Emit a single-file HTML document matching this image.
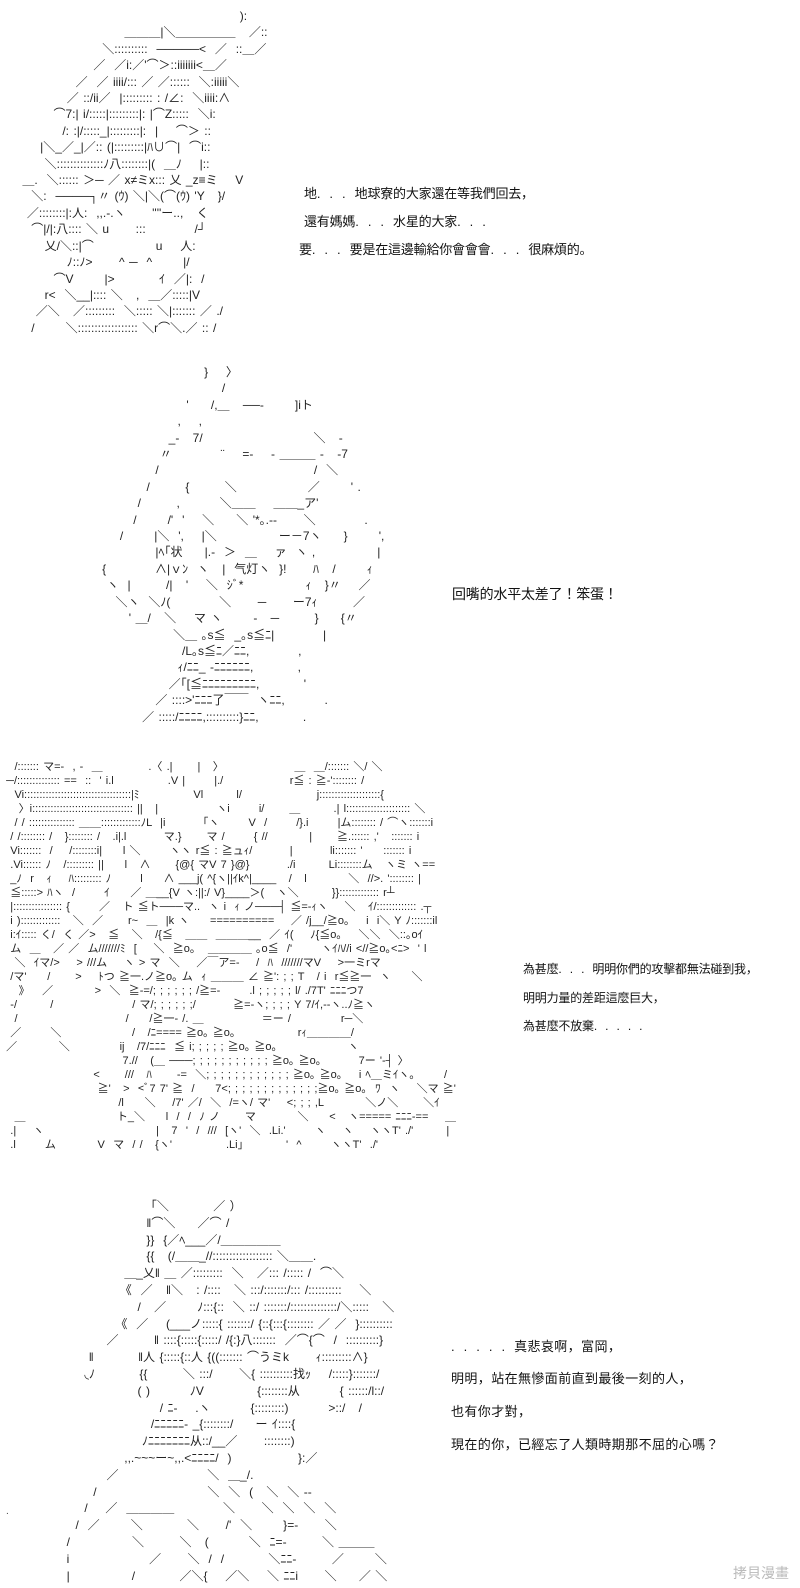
<!DOCTYPE html>
<html><head><meta charset="utf-8">
<style>
html,body{margin:0;padding:0;background:#fff;}
body{width:800px;height:1588px;position:relative;overflow:hidden;}
.aa{position:absolute;margin:0;white-space:pre;font-family:"Liberation Sans","Noto Sans CJK JP",sans-serif;font-size:12px;color:#222;word-spacing:1.1px;}
.t{position:absolute;white-space:nowrap;font-family:"Liberation Sans","Noto Sans CJK JP","Noto Sans CJK TC",sans-serif;color:#111;}
.p1{font-size:13px;letter-spacing:-0.2px;}
.p3{font-size:12px;letter-spacing:-0.2px;}
.p4{font-size:13px;letter-spacing:0.4px;}
.d{letter-spacing:9px;}
.p3 .d{letter-spacing:8px;}
</style></head><body>

<pre class="aa" style="left:18px;top:8px;line-height:16.4px;">                                                  ):
                        ＿＿＿|＼＿＿＿＿＿   ／::
                   ＼::::::::::  ─────&lt;  ／  ::＿／
                 ／  ／i:／'⌒＞::iiiiiii&lt;＿／
             ／  ／ iiii/::: ／ ／::::::  ＼:iiiii＼
           ／ ::/ii／  |::::::::: : /∠:  ＼iiii:∧
        ⌒7:| i/:::::|:::::::::|: |⌒Z:::::  ＼i:
          /: :|/:::::_|:::::::::|:  |    ⌒＞ ::
     |＼_／_|／:: (|:::::::::|ﾊ∪⌒|  ⌒i::
      ＼::::::::::::::ﾉ八::::::::|(  ＿ﾉ    |::
 ＿.  ＼:::::: ＞─ ／ x≠ミx::: 乂 _z≡ミ    V
   ＼:  ────┐〃 (ｳ) ＼|＼(⌒(ｳ) 'Y   }/
  ／::::::::|:人:  ,,.-.ヽ      ''''ー..,   く
   ⌒|/|:八:::: ＼ u      :::           /┘
      乂/＼::|⌒              u    人:
           ﾉ::ﾉ&gt;      ^ ─  ^       |/
        ⌒V       |&gt;          ｲ  ／|:  /
      r&lt;  ＼__|:::: ＼   ,  ＿／:::::|V
    ／＼   ／:::::::::  ＼::::: ＼|::::::: ／ ./
   /       ＼:::::::::::::::::: ＼r⌒＼.／ :: /</pre>

<pre class="aa" style="left:80px;top:364px;line-height:16.4px;">                            }    〉
                                /
                        '     /,＿   ──-       ]iト
                      ,    ,
                    _-   7/                         ＼   -
                  〃           ¨    =-    - ＿＿＿ -   -7
                 /                                   /  ＼
               /        {        ＼                ／       ' .
             /        ,         ＼＿＿    ＿＿_ア'
            /       /'  '    ＼     ＼ '*｡.--      ＼           .
         /       |＼  ',    |＼              ー－7ヽ     }       ',
                 |ﾍ｢状     |.-  ＞  ＿    ァ  ヽ ,              |
     {           ∧|ｖﾝ  ヽ   |  气灯ヽ  }!      ﾊ   /       ｨ
      ヽ  |        /|   '    ＼  ｼﾞ*              ｨ   }〃    ／
        ＼ヽ  ＼ﾉ(           ＼      ─      ー7ｨ        ／
           ' ＿/   ＼    マ ヽ       -   ─        }     {〃
                     ＼＿ ｡s≦  _｡s≦ﾆ|           |
                       /L｡s≦ﾆ／ﾆﾆ,           ,
                      ｨ/ﾆﾆ_ -ﾆﾆﾆﾆﾆﾆ,          ,
                    ／｢[≦ﾆﾆﾆﾆﾆﾆﾆﾆﾆ,          '
                 ／ ::::&gt;'ﾆﾆﾆ了￣￣  ヽﾆﾆ,         .
              ／ :::::/ﾆﾆﾆﾆ,::::::::::}ﾆﾆ,          .</pre>

<pre class="aa" style="left:2px;top:760px;line-height:14px;font-size:11px;">   /::::::: マ=-  , -  ＿           .〈 .|      |   〉                 ＿  ＿/::::::: ＼/ ＼
 ─/:::::::::::::: ==  ::  ' i.l             .V |       |./                r≦ : ≧-':::::::: /
   Vi:::::::::::::::::::::::::::::::::::|ﾐ             Vl        l/                  j::::::::::::::::::::{
    〉i::::::::::::::::::::::::::::::::: ||   |              ヽi       i/      ＿        .| l::::::::::::::::::::: ＼
   / / ::::::::::::::: ＿＿:::::::::::::ﾉL  |i         ｢ヽ       V  /       /}.i       |ム:::::::: / ⌒ヽ:::::::i
  / /:::::::: /   }:::::::: /   .i|.l         マ.}      マ /       { //          |      ≧.:::::: ,'   ::::::: i
  Vi:::::::  /    /::::::::i|     l ＼       ヽヽ r≦ : ≧ュｨ/         |         li::::::: '     ::::::: i
  .Vi:::::: ﾉ   /::::::::: ||     l   ∧      {@{ マV 7 }@}         ./i        Li::::::::ム   ヽミ ヽ==
  _ﾉ  r   ｨ    ﾊ::::::::: ﾉ       l     ∧ ___j( ^{ヽ||ｲk^|____   /   l          ＼  //&gt;. ':::::::: |
  ≦:::::&gt; ﾊヽ  /       ｲ     ／ ＿__{V ヽ:||:/ V}____＞(   ヽ＼        }}::::::::::::: r┴
  |:::::::::::::::: {       ／   ト ≦ト───マ..  ヽ i  ｨ ノ───┤ ≦=-ｨヽ    ＼   ｲ/::::::::::::: .┬
  i ):::::::::::::   ＼  ／      r~  ＿  |k ヽ     ==========    ／ /j__/≧o｡    i  i＼ Y ﾉ:::::::il
  i:ｲ::::: く/  く ／&gt;   ≦   ＼   /{≦   ＿＿  ＿＿＿__  ／ ｲ(    ﾉ{≦o｡    ＼＼  ＼::｡oｲ
  ム  ＿   ／ ／  ム///////ﾐ  [    ＼  ≧o｡   ＿＿＿＿ ｡o≦  /'       ヽｲﾊ//i &lt;//≧o｡&lt;ﾆ&gt;  ' l
   ＼  ｲマ/&gt;    &gt; ///ム    ヽ &gt; マ  ＼    ／￣ア=-    /  ﾊ  ///////マV    &gt;一ミrマ
  /マ'     /      &gt;    ﾄつ ≧一.ノ≧o｡ ム  ｨ ＿＿＿ ∠ ≧': ; ; T   / i  r≦≧一  ヽ     ＼
    》   ／          &gt;  ＼  ≧-=/; ; ; ; ; ; /≧=-       .l ; ; ; ; ; l/ ./7T' ﾆﾆﾆつ7
  -/        /                   / マ/; ; ; ; ; ;/         ≧=-ヽ; ; ; ; Y 7/ｲ,--ヽ..ﾉ≧ヽ
   /                          /     /≧一- /. ＿              ＝ー /            r─＼
  ／       ＼                 /   /ﾆ==== ≧o｡ ≧o｡               rｨ＿＿＿＿/
 ／          ＼            ij   /7/ﾆﾆﾆ  ≦ i; ; ; ; ; ≧o｡ ≧o｡                 ヽ
                             7.//   (＿ ───; ; ; ; ; ; ; ; ; ; ; ≧o｡ ≧o｡         7ー '-┤ 〉
                      &lt;      ///   ﾊ      -=  ＼; ; ; ; ; ; ; ; ; ; ; ; ≧o｡ ≧o｡    i ﾍ＿ミｲヽ｡       /
                       ≧'   &gt;  &lt;ﾞ7 7' ≧  /     7&lt;; ; ; ; ; ; ; ; ; ; ; ; ;≧o｡ ≧o｡  ﾜ  ヽ    ＼マ ≧'
                            /l     ＼    /7' ／/  ＼  /=ヽ/ マ'    &lt;; ; ; ,L          ＼ノ＼      ＼ｲ
   ＿                      ト_＼     l  /  /  ﾉ ノ      マ          ＼     &lt;   ヽ===== ﾆﾆﾆ-==    ＿
  .|    ヽ                           |   7  '  /  ///  [ヽ'  ＼  .Li.'       ヽ    ヽ    ヽヽT' ./'        |
  .l       ム          V  マ  / /   {ヽ'             .Li」         '  ^       ヽヽT'  ./'</pre>

<pre class="aa" style="left:40px;top:1198px;line-height:16.8px;">                         ｢＼          ／ ）
                        ‖⌒＼     ／⌒ /
                        }}  {／ﾍ___／/＿＿＿＿＿
                        {{   (/＿＿_//:::::::::::::::::: ＼＿＿.
                   ＿_乂‖ ＿ ／:::::::::  ＼   ／::: /::::: /  ⌒＼
                  《  ／   ‖＼   : /::::   ＼ :::/:::::::/::: /::::::::::    ＼
                      /   ／       ﾉ:::{::  ＼ ::/ :::::::/::::::::::::::/＼:::::   ＼
                 《  ／    (___ノ:::::{ :::::::/ {::{:::{:::::::: ／ ／  }::::::::::
               ／        ‖ ::::{:::::{:::::/ /{:}八:::::::  ／⌒{⌒  /  ::::::::::}
           ‖          ‖人 {:::::{::人 {((::::::: ⌒うミk      ｨ:::::::::∧}
          ◟ﾉ          {{        ＼ :::/      ＼{ ::::::::::找ｯ    /:::::}:::::::/
                      ( )         ﾉV            {::::::::从         { ::::::/l::/
                           / ﾆ-    .ヽ         {:::::::::)         &gt;::/   /
                         /ﾆﾆﾆﾆﾆ- _{::::::::/     ー ｲ::::{
                       ﾉﾆﾆﾆﾆﾆﾆﾆ从::/__／      ::::::::)
                   ,,.~~~ー~,,.&lt;ﾆﾆﾆﾆ/  )               }:／
               ／                    ＼  ＿_/.
            /                         ＼  ＼  (   ＼  ＼ --
          /    ／  ＿＿＿＿           ＼      ＼  ＼  ＼  ＼
        /  ／       ＼          ＼      /'  ＼       }=-      ＼
      /              ＼        ＼   (         ＼  ﾆ=-        ＼ ＿＿＿
      i                  ／      ＼  /  /          ＼ﾆﾆ-        ／       ＼
      |              /          ／＼{    ／＼    ＼ ﾆﾆi      ＼     ／ ＼</pre>

<div class="t p1" style="left:304px;top:183px;">地<span class="d">...</span>地球寮的大家還在等我們回去，</div>
<div class="t p1" style="left:304px;top:211px;">還有媽媽<span class="d">...</span>水星的大家<span class="d">...</span></div>
<div class="t p1" style="left:299px;top:239px;">要<span class="d">...</span>要是在這邊輸給你會會會<span class="d">...</span>很麻煩的。</div>

<div class="t p1" style="left:452px;top:584px;font-size:14px;">回嘴的水平太差了！笨蛋！</div>

<div class="t p3" style="left:523px;top:960px;">為甚麼<span class="d">...</span>明明你們的攻擊都無法碰到我，</div>
<div class="t p3" style="left:523px;top:989px;">明明力量的差距這麼巨大，</div>
<div class="t p3" style="left:523px;top:1017px;">為甚麼不放棄<span class="d">.....</span></div>

<div class="t p4" style="left:451px;top:1336px;"><span class="d">.....</span>真悲哀啊，富岡，</div>
<div class="t p4" style="left:451px;top:1368px;">明明，站在無慘面前直到最後一刻的人，</div>
<div class="t p4" style="left:451px;top:1401px;">也有你才對，</div>
<div class="t p4" style="left:451px;top:1434px;">現在的你，已經忘了人類時期那不屈的心嗎？</div>

<div class="t" style="left:733px;top:1563px;font-size:14px;color:#bbb;">拷貝漫畫</div>
<div class="t" style="left:6px;top:1506px;font-size:10px;color:#444;">.</div>
</body></html>
